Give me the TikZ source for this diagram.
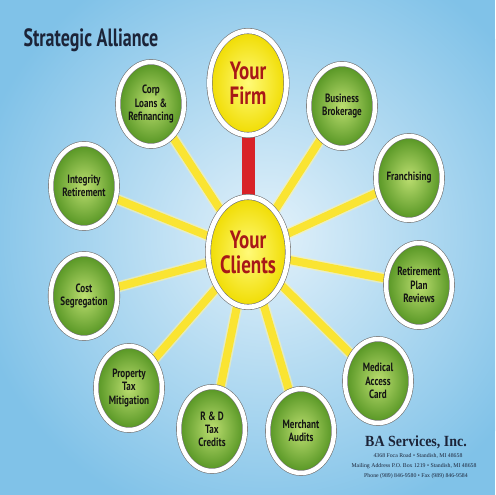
\documentclass[tikz,border=0pt]{standalone}
\usepackage{fontspec}
\setmainfont{Liberation Serif}
\newfontfamily\nodefont[FakeStretch=0.76]{PT Sans}
\newfontfamily\titlefont[FakeStretch=0.72]{PT Sans}
\newfontfamily\bafont[FakeStretch=0.9]{Liberation Serif}
\usetikzlibrary{shapes.geometric,shadows}
\definecolor{bgblue}{RGB}{128,194,232}
\definecolor{bglight}{RGB}{226,241,250}
\definecolor{leafin}{RGB}{188,222,112}
\definecolor{leafout}{RGB}{84,148,34}
\definecolor{sunin}{RGB}{255,250,120}
\definecolor{sunout}{RGB}{240,220,0}
\definecolor{spokecol}{RGB}{250,228,50}
\definecolor{firmred}{RGB}{216,34,40}
\definecolor{textred}{RGB}{168,24,24}
\definecolor{navy}{RGB}{28,36,56}
\pgfdeclarelayer{bg}
\pgfdeclarelayer{back}
\pgfsetlayers{bg,back,main}
\tikzset{
  leaf/.style={ellipse, inner sep=0pt, minimum width=66pt, minimum height=84pt,
    draw=black!55, line width=0.6pt, double=white, double distance=4.5pt,
    inner color=leafin, outer color=leafout,
    drop shadow={shadow xshift=1.5pt, shadow yshift=-2pt, opacity=0.35, fill=black},
    font=\nodefont\bfseries\fontsize{12}{13.2}\selectfont, align=center, text=black!92},
  sun/.style={ellipse, inner sep=0pt,
    draw=black!55, line width=0.6pt, double=white, double distance=4.8pt,
    inner color=sunin, outer color=sunout,
    drop shadow={shadow xshift=1.5pt, shadow yshift=-2pt, opacity=0.35, fill=black},
    font=\nodefont\bfseries\fontsize{25}{25}\selectfont, align=center, text=textred},
  spoke/.style={line width=8pt, draw=spokecol,
    preaction={draw=spokecol!45!white, line width=11pt, opacity=0.6}},
  firmlink/.style={line width=13pt, draw=firmred},
}
\begin{document}
\begin{tikzpicture}[x=1pt,y=-1pt]
\useasboundingbox (0,0) rectangle (495,495);
\begin{pgfonlayer}{bg}
\begin{scope}
\clip (0,0) rectangle (495,495);
\fill[bgblue] (0,0) rectangle (495,495);
\shade[inner color=bglight, outer color=bgblue] (268,235) circle (300);
\end{scope}
\end{pgfonlayer}

\node[anchor=base west, font=\titlefont\bfseries\fontsize{25}{25}\selectfont, text=navy] (title) at (20,47) {Strategic Alliance};

\node[sun, minimum width=77pt, minimum height=104pt] (firm) at (248,83) {Your\\Firm};
\node[sun, minimum width=80pt, minimum height=110pt] (cl) at (248,252) {Your\\Clients};

\node[leaf] (corp) at (151,104) {Corp\\Loans \&\\Refinancing};
\node[leaf] (bb) at (342,106) {Business\\Brokerage};
\node[leaf] (ir) at (84,186) {Integrity\\Retirement};
\node[leaf] (fr) at (409,178) {Franchising};
\node[leaf] (cs) at (84,296) {Cost\\Segregation};
\node[leaf] (rp) at (419,285) {Retirement\\Plan\\Reviews};
\node[leaf] (pt) at (129,388) {Property\\Tax\\Mitigation};
\node[leaf] (rd) at (212,429) {R \& D\\Tax\\Credits};
\node[leaf] (ma) at (301,431) {Merchant\\Audits};
\node[leaf] (mc) at (378,381) {Medical\\Access\\Card};

\begin{pgfonlayer}{back}
\foreach \t in {corp,bb,ir,fr,cs,rp,pt,rd,ma,mc}
  \draw[spoke] (cl.center) -- (\t.center);
\draw[firmlink] (firm.center) -- (cl.center);
\end{pgfonlayer}

\node[anchor=base, font=\bafont\bfseries\fontsize{15.5}{16}\selectfont, text=navy] (ba) at (416,446) {BA Services, Inc.};
\node[anchor=base, font=\fontsize{5.8}{6}\selectfont, text=navy] (a1) at (418,457) {4368 Foca Road • Standish, MI 48658};
\node[anchor=base, font=\fontsize{5.8}{6}\selectfont, text=navy] (a2) at (414,467) {Mailing Address P.O. Box 1219 • Standish, MI 48658};
\node[anchor=base, font=\fontsize{5.8}{6}\selectfont, text=navy] (a3) at (416,477) {Phone (989) 846-9580 • Fax (989) 846-9584};
\end{tikzpicture}
\end{document}
